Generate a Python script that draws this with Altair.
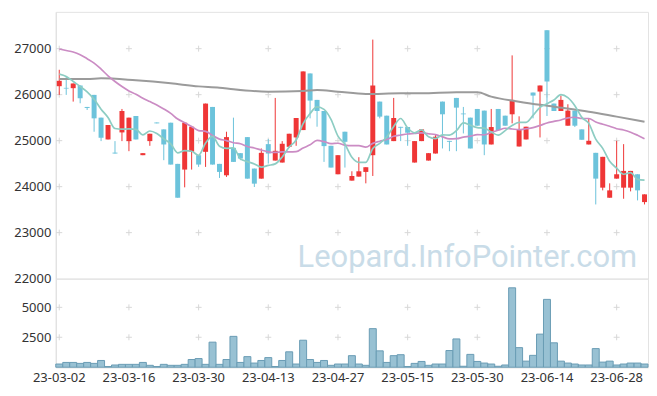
import altair as alt
import pandas as pd

dates = ["23-03-02","23-03-03","23-03-06","23-03-07","23-03-08","23-03-09","23-03-10","23-03-13","23-03-14","23-03-15",
         "23-03-16","23-03-17","23-03-20","23-03-21","23-03-22","23-03-23","23-03-24","23-03-27","23-03-28","23-03-29",
         "23-03-30","23-03-31","23-04-03","23-04-04","23-04-05","23-04-06","23-04-07","23-04-10","23-04-11","23-04-12",
         "23-04-13","23-04-14","23-04-17","23-04-18","23-04-19","23-04-20","23-04-21","23-04-24","23-04-25","23-04-26",
         "23-04-27","23-04-28","23-05-02","23-05-03","23-05-04","23-05-08","23-05-09","23-05-10","23-05-11","23-05-12",
         "23-05-15","23-05-16","23-05-17","23-05-18","23-05-19","23-05-22","23-05-23","23-05-24","23-05-25","23-05-26",
         "23-05-30","23-05-31","23-06-01","23-06-02","23-06-05","23-06-07","23-06-08","23-06-09","23-06-12","23-06-13",
         "23-06-14","23-06-15","23-06-16","23-06-19","23-06-20","23-06-21","23-06-22","23-06-23","23-06-26","23-06-27",
         "23-06-28","23-06-29","23-06-30","23-07-03","23-07-04"]

opens = [26184,26148,26141,26199,25733,25995,25500,25026,24740,25179,
         24990,25536,24684,24990,25395,25245,25390,24495,24371,24757,
         24684,24757,25733,24495,24247,24844,24728,25077,24393,24174,
         24924,24567,24524,24866,25070,25230,26461,25886,25645,24888,
         24269,25194,24131,24218,24320,24684,25849,25543,24990,25300,
         25296,24524,24990,24567,24720,25849,24995,25929,25590,25500,
         25689,25653,24917,25689,25543,25573,24873,25026,26046,26068,
         27401,25806,25645,25325,25653,25245,24917,24735,23978,23759,
         24174,23978,23978,24269,23664]
closes = [26301,26133,26243,25922,25711,25485,25063,25340,24720,25645,
          25500,25026,24728,25150,25376,24917,24480,23759,25390,25303,
          24480,25806,24480,24320,25077,24538,24611,24174,24065,24735,
          24720,24779,24932,25150,25492,26505,25871,25645,24881,24415,
          24684,24975,24232,24334,24422,26199,25522,24917,25492,25281,
          25172,24990,25245,24728,25085,25573,24975,25718,25573,24830,
          25325,24917,25296,25230,25325,25886,25245,25303,25980,26199,
          26286,25645,25886,25653,25325,25019,24997,24174,24648,23919,
          24269,24342,24342,23919,23832]
highs = [26541,26395,26243,26199,25733,25995,25500,25340,24990,25689,
         25500,25536,24728,25150,25395,25245,25390,24495,25390,25303,
         24684,25806,25733,24495,25194,25500,24728,25077,24393,24830,
         25034,25929,24990,25150,25492,26505,26461,25886,25645,24888,
         24684,25194,24334,24640,24422,27197,25849,25543,25929,25300,
         25296,24990,25245,24728,25121,25849,24995,25929,25733,25500,
         25689,25653,25689,25689,25543,26854,25529,25303,26046,26199,
         27401,25806,25980,25791,25653,25245,25485,24735,24648,24072,
         24997,24924,24342,24269,23832]
lows = [25995,25995,25849,25813,25667,25194,24990,25026,24720,24990,
        24771,25026,24684,24888,25376,24575,24480,23759,23985,24371,
        24429,24429,24480,24189,24211,24538,24575,24174,23992,24174,
        24502,24567,24524,24844,24888,25230,25485,25303,24538,24415,
        24269,24415,24131,24218,24072,24232,25485,24917,24990,24990,
        24888,24524,24990,24567,24720,24830,24771,24771,25157,24830,
        25325,24684,24917,25230,25325,25376,24873,25026,25485,25070,
        25536,25645,25645,25325,25296,25019,24917,23613,23919,23759,
        24174,23737,23897,23701,23613]
volumes = [266,400,400,320,400,320,562,60,185,239,
           239,239,400,158,60,239,158,158,239,642,
           723,239,2093,239,642,2577,400,884,347,562,
           803,60,562,1287,266,2254,642,400,562,158,
           266,266,965,266,158,3221,1368,400,965,1046,
           60,320,481,158,266,266,1394,2362,80,1072,
           481,347,266,80,185,6633,1636,508,991,2765,
           5666,2039,508,347,266,185,185,1555,427,508,
           185,266,347,347,266]
ma_short = [26447,26396,26286,26177,26062,25899,25685,25504,25264,25251,
            25254,25246,25124,25210,25156,25039,24930,24736,24784,24770,
            24682,24948,25092,24878,24833,24844,24605,24544,24493,24425,
            24461,24495,24646,24863,25015,25372,25590,25733,25679,25463,
            25099,24920,24637,24528,24529,24832,24942,25079,25310,25482,
            25277,25170,25236,25083,25044,25124,25121,25216,25385,25334,
            25284,25273,25188,25120,25219,25331,25396,25398,25548,25723,
            25803,25883,25999,25934,25759,25506,25376,25034,24833,24551,
            24401,24270,24304,24158,24141]
ma_mid = [26993,26960,26927,26869,26782,26687,26556,26410,26286,26177,
          26082,26010,25922,25849,25776,25689,25594,25470,25390,25310,
          25219,25202,25114,25034,25002,24955,24932,24874,24841,24796,
          24757,24744,24755,24755,24760,24840,24909,25004,24978,24934,
          24944,24902,24890,24891,24858,24941,24987,25024,25095,25122,
          25145,25156,25171,25150,25130,25083,25038,25042,25077,25097,
          25129,25127,25180,25225,25270,25254,25240,25259,25284,25330,
          25385,25418,25450,25497,25509,25481,25482,25405,25358,25313,
          25260,25231,25184,25118,25043]
ma_long_idx = [0,4,6,11,16,20,23,25,30,35,37,40,44,49,52,57,60,62,66,71,76,80,84]
ma_long = [26343,26341,26355,26311,26246,26180,26152,26116,26065,26080,26102,26065,
           26015,26029,26029,26051,26051,25957,25848,25739,25630,25522,25413]

price_ticks = [22000, 23000, 24000, 25000, 26000, 27000]
cross_prices = [23000, 24000, 25000, 26000, 27000]
vol_ticks = [2500, 5000]
label_dates = ["23-03-02","23-03-16","23-03-30","23-04-13","23-04-27",
               "23-05-15","23-05-30","23-06-14","23-06-28"]
watermark = "Leopard.InfoPointer.com"

UP = "#ef3636"
DOWN = "#6cc3db"
W = 595
H_PRICE = 268
H_VOL = 89

df = pd.DataFrame({"date": dates, "open": opens, "close": closes,
                   "high": highs, "low": lows, "volume": volumes,
                   "ma_short": ma_short, "ma_mid": ma_mid})
df["dir"] = ["up" if c >= o else "down" for o, c in zip(opens, closes)]
df_long = pd.DataFrame({"date": [dates[i] for i in ma_long_idx], "ma_long": ma_long})
df_cross_p = pd.DataFrame([(d, p) for d in label_dates for p in cross_prices], columns=["date", "v"])
df_cross_v = pd.DataFrame([(d, v) for d in label_dates for v in vol_ticks], columns=["date", "v"])

xscale = alt.Scale(domain=dates, paddingInner=0, paddingOuter=0)
yscale = alt.Scale(domain=[22000, 27800], nice=False, zero=False)
vscale = alt.Scale(domain=[0, 7400], nice=False)

axis_common = dict(ticks=False, grid=False, domainColor="#e0e0e0", labelColor="#333333",
                   labelFontSize=13, labelFont="Noto Sans", title=None)
yaxis_price = alt.Axis(values=price_ticks, format="d", labelPadding=5, minExtent=40, maxExtent=40, **axis_common)
yaxis_vol = alt.Axis(values=vol_ticks, format="d", labelPadding=5, minExtent=40, maxExtent=40, **axis_common)
xaxis_vol = alt.Axis(values=label_dates, labelAngle=0, labelPadding=4, **axis_common)

Xp = alt.X("date:O", scale=xscale, axis=None)
color = alt.Color("dir:N", scale=alt.Scale(domain=["up", "down"], range=[UP, DOWN]), legend=None)
cross_shape = "M-1,0L1,0M0,-1L0,1"

wm = alt.Chart(pd.DataFrame({"t": [watermark]})).mark_text(
    align="right", baseline="alphabetic", fontSize=31, font="Roboto", color="#c9dce8"
).encode(x=alt.value(584), y=alt.value(256), text="t:N")

crosses_p = alt.Chart(df_cross_p).mark_point(
    shape=cross_shape, size=36, filled=False, stroke="#d8d8d8", strokeWidth=1, opacity=1
).encode(x=Xp, y=alt.Y("v:Q", scale=yscale, axis=yaxis_price))

wick = alt.Chart(df).mark_rule(strokeWidth=1).encode(
    x=Xp, y=alt.Y("low:Q", scale=yscale, axis=yaxis_price), y2="high:Q", color=color)
body = alt.Chart(df).mark_bar(size=5).encode(
    x=Xp, y=alt.Y("open:Q", scale=yscale, axis=yaxis_price), y2="close:Q", color=color)

line_long = alt.Chart(df_long).mark_line(color="#9b9b9b", strokeWidth=2, interpolate="monotone").encode(
    x=Xp, y=alt.Y("ma_long:Q", scale=yscale, axis=yaxis_price))
line_mid = alt.Chart(df).mark_line(color="#cb8cc4", strokeWidth=1.7, interpolate="monotone").encode(
    x=Xp, y=alt.Y("ma_mid:Q", scale=yscale, axis=yaxis_price))
line_short = alt.Chart(df).mark_line(color="#8dcdc3", strokeWidth=1.7, interpolate="monotone").encode(
    x=Xp, y=alt.Y("ma_short:Q", scale=yscale, axis=yaxis_price))

price = alt.layer(wm, crosses_p, wick, body, line_long, line_mid, line_short).properties(
    width=W, height=H_PRICE)

Xv = alt.X("date:O", scale=xscale, axis=xaxis_vol)
crosses_v = alt.Chart(df_cross_v).mark_point(
    shape=cross_shape, size=36, filled=False, stroke="#d8d8d8", strokeWidth=1, opacity=1
).encode(x=Xv, y=alt.Y("v:Q", scale=vscale, axis=yaxis_vol))
vol_bars = alt.Chart(df).mark_bar(fill="#98c1d3", stroke="#6a9cb4", strokeWidth=1).encode(
    x=Xv, y=alt.Y("volume:Q", scale=vscale, axis=yaxis_vol))
vol = alt.layer(crosses_v, vol_bars).properties(width=W, height=H_VOL)

chart = alt.vconcat(price, vol, spacing=0, bounds="flush").properties(
    padding={"left": 5, "top": 2, "right": 0, "bottom": 3}
).configure_view(stroke="#e3e3e3")

chart.save("out.html", embed_options={"renderer": "svg", "actions": False})
